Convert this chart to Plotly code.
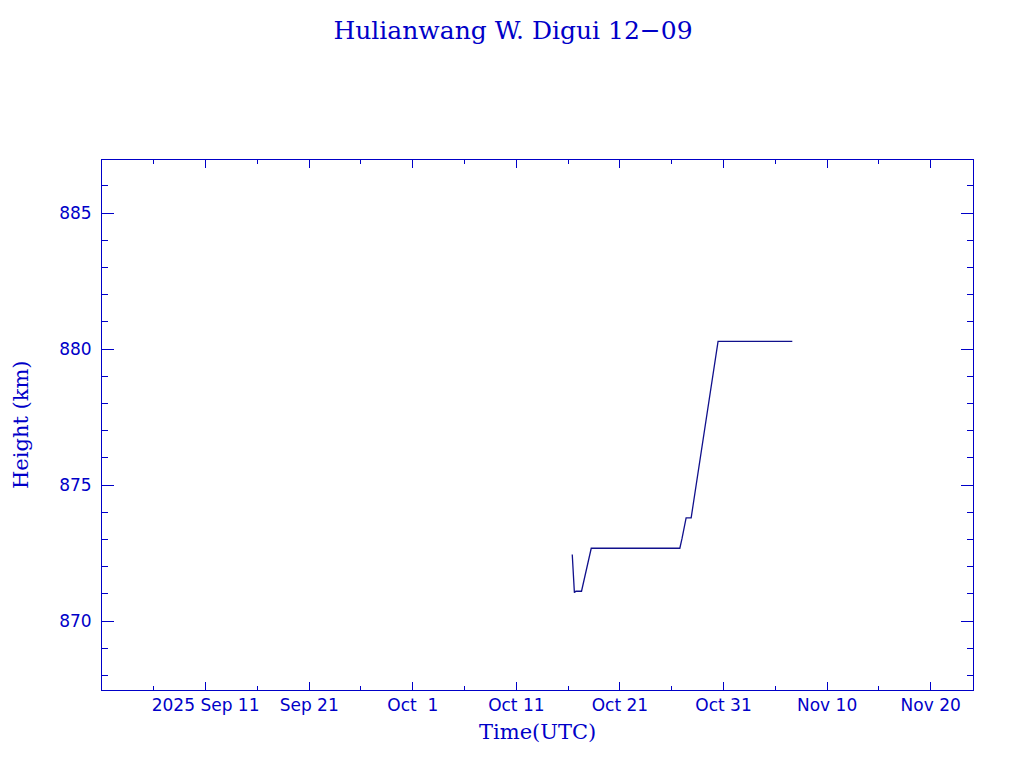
import plotly.graph_objects as go

# height track
times = [
    "2025-10-16 09:30", "2025-10-16 12:00", "2025-10-16 14:30", "2025-10-16 18:00",
    "2025-10-17 07:00", "2025-10-18 05:30", "2025-10-26 18:45", "2025-10-27 00:00",
    "2025-10-27 09:20", "2025-10-27 21:00", "2025-10-30 11:20", "2025-11-06 15:20",
]
heights = [872.45, 871.45, 871.05, 871.1, 871.1, 872.68, 872.68, 873.05,
           873.8, 873.8, 880.28, 880.28]

tick_dates = ["2025-09-11", "2025-09-21", "2025-10-01", "2025-10-11",
              "2025-10-21", "2025-10-31", "2025-11-10", "2025-11-20"]
tick_labels = ["2025 Sep 11", "Sep 21", "Oct  1", "Oct 11",
               "Oct 21", "Oct 31", "Nov 10", "Nov 20"]
minor_dates = ["2025-09-06", "2025-09-16", "2025-09-26", "2025-10-06",
               "2025-10-16", "2025-10-26", "2025-11-05", "2025-11-15"]

blue = "#0000c8"
navy = "#10108c"

fig = go.Figure()

fig.add_trace(go.Scatter(
    x=times,
    y=heights,
    mode="lines",
    line=dict(color=navy, width=1.3),
    showlegend=False,
))

# the page puts the figure 8px in from the top-left corner
fig.update_layout(
    width=1024,
    height=768,
    margin=dict(l=94, r=59, t=152, b=86),
    paper_bgcolor="white",
    plot_bgcolor="white",
    title=dict(
        text="Hulianwang W. Digui 12\u221209",
        x=(513 - 8) / 1024, xanchor="center",
        y=1 - 22 / 768, yanchor="middle",
        font=dict(family="DejaVu Serif", size=25, color=blue),
    ),
    xaxis=dict(
        type="date",
        range=["2025-09-01", "2025-11-24 02:00"],
        tickmode="array",
        tickvals=tick_dates,
        ticktext=tick_labels,
        ticks="inside",
        ticklen=8,
        tickwidth=1,
        tickcolor=blue,
        tickfont=dict(family="DejaVu Sans", size=17, color=blue),
        minor=dict(tickmode="array", tickvals=minor_dates, ticks="inside",
                   ticklen=4, tickwidth=1, tickcolor=blue),
        showline=True,
        linecolor=blue,
        linewidth=1,
        mirror="allticks",
        showgrid=False,
        zeroline=False,
    ),
    yaxis=dict(
        range=[867.47, 886.95],
        tickmode="array",
        tickvals=[870, 875, 880, 885],
        ticks="inside",
        ticklen=12,
        tickwidth=1,
        tickcolor=blue,
        tickfont=dict(family="DejaVu Sans", size=17, color=blue),
        ticklabelstandoff=6,
        minor=dict(dtick=1, ticks="inside", ticklen=6, tickwidth=1,
                   tickcolor=blue),
        showline=True,
        linecolor=blue,
        linewidth=1,
        mirror="allticks",
        showgrid=False,
        zeroline=False,
    ),
    annotations=[
        dict(text="Time(UTC)", xref="paper", yref="paper", x=0.5, y=0,
             yshift=-42, xanchor="center", yanchor="middle", showarrow=False,
             font=dict(family="DejaVu Serif", size=21, color=blue)),
        dict(text="Height (km)", xref="paper", yref="paper", x=0, y=0.5,
             xshift=-81, xanchor="center", yanchor="middle", textangle=-90,
             showarrow=False,
             font=dict(family="DejaVu Serif", size=21, color=blue)),
    ],
)

fig.write_html("out.html")
